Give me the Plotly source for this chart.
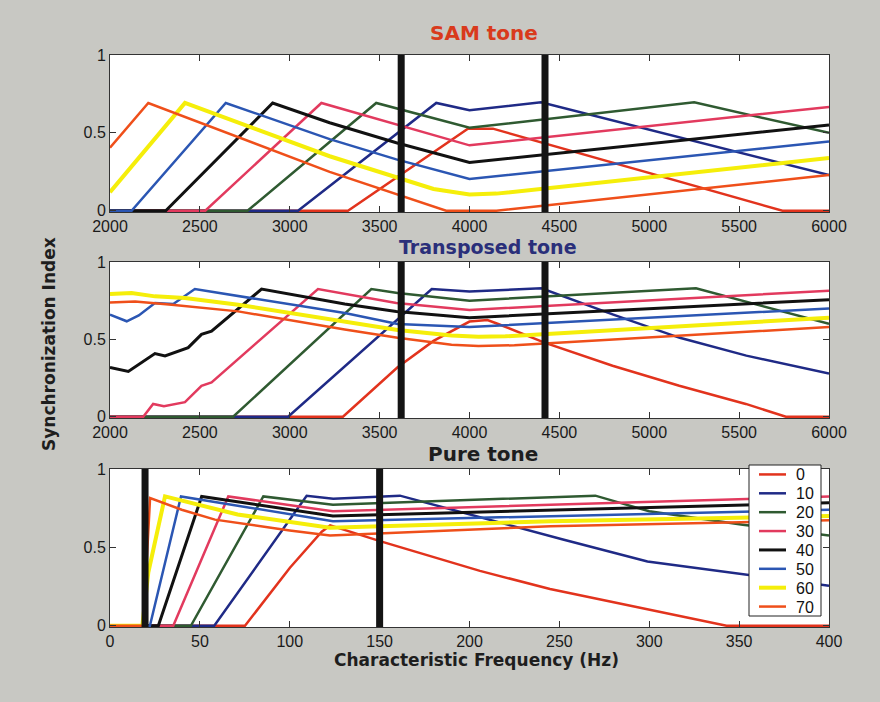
import plotly.graph_objects as go

# Sound levels (dB) shown in the legend, with line colours and widths
LEVELS = ["0", "10", "20", "30", "40", "50", "60", "70"]
LINE_COLORS = ["#e2331d", "#1f2a86", "#2f5a31", "#e23a5e", "#111111", "#2b56b3", "#f5ee0a", "#ef4f1a"]
LINE_WIDTHS = [2.5, 2.5, 2.5, 2.5, 3, 2.5, 4, 2.5]

# ---- SAM tone: characteristic frequency (Hz) vs synchronization index ----
sam_cf_0 = [2000, 3324, 3991, 4130, 5741, 6000]
sam_si_0 = [0, 0, 0.527, 0.527, 0, 0]
sam_cf_10 = [2000, 3046, 3815, 4000, 4398, 6000]
sam_si_10 = [0, 0, 0.692, 0.645, 0.696, 0.229]
sam_cf_20 = [2000, 2765, 3481, 4000, 5250, 6000]
sam_si_20 = [0, 0, 0.692, 0.533, 0.696, 0.50]
sam_cf_30 = [2000, 2530, 3176, 4000, 6000]
sam_si_30 = [0, 0, 0.692, 0.42, 0.667]
sam_cf_40 = [2000, 2310, 2905, 3222, 3593, 4000, 6000]
sam_si_40 = [0, 0, 0.692, 0.565, 0.437, 0.31, 0.55]
sam_cf_50 = [2000, 2120, 2644, 3222, 3593, 4000, 6000]
sam_si_50 = [0, 0, 0.692, 0.46, 0.33, 0.204, 0.444]
sam_cf_60 = [2000, 2417, 3222, 3593, 3800, 4000, 4150, 6000]
sam_si_60 = [0.119, 0.692, 0.35, 0.214, 0.14, 0.104, 0.11, 0.338]
sam_cf_70 = [2000, 2213, 3222, 3870, 4150, 6000]
sam_si_70 = [0.405, 0.692, 0.25, 0, 0, 0.229]
sam_markers = [3620, 4420]

# ---- Transposed tone ----
tr_cf_0 = [2000, 3296, 3600, 3800, 4000, 4100, 4167, 4417, 4796, 5167, 5537, 5760, 6000]
tr_si_0 = [0, 0, 0.32, 0.49, 0.615, 0.625, 0.596, 0.479, 0.33, 0.20, 0.083, 0, 0]
tr_cf_10 = [2000, 2991, 3790, 4000, 4400, 4800, 5170, 5540, 6000]
tr_si_10 = [0, 0, 0.825, 0.81, 0.83, 0.66, 0.51, 0.395, 0.28]
tr_cf_20 = [2000, 2685, 3454, 3600, 4000, 5260, 6000]
tr_si_20 = [0, 0, 0.825, 0.80, 0.75, 0.83, 0.60]
tr_cf_30 = [2000, 2185, 2240, 2300, 2417, 2509, 2565, 3157, 3593, 4000, 6000]
tr_si_30 = [0, 0, 0.083, 0.068, 0.094, 0.20, 0.222, 0.825, 0.735, 0.69, 0.814]
tr_cf_40 = [2000, 2102, 2250, 2306, 2435, 2509, 2565, 2676, 2843, 3306, 3593, 4000, 6000]
tr_si_40 = [0.318, 0.293, 0.408, 0.393, 0.447, 0.532, 0.553, 0.66, 0.825, 0.729, 0.68, 0.64, 0.756]
tr_cf_50 = [2000, 2093, 2160, 2250, 2352, 2472, 3306, 3600, 4000, 6000]
tr_si_50 = [0.66, 0.617, 0.655, 0.735, 0.729, 0.825, 0.67, 0.60, 0.58, 0.70]
tr_cf_60 = [2000, 2120, 2250, 2417, 2713, 3306, 3600, 3900, 4050, 4200, 6000]
tr_si_60 = [0.793, 0.80, 0.778, 0.767, 0.724, 0.617, 0.56, 0.525, 0.517, 0.52, 0.64]
tr_cf_70 = [2000, 2140, 2343, 2713, 3306, 3600, 3900, 4050, 4250, 6000]
tr_si_70 = [0.739, 0.745, 0.724, 0.681, 0.564, 0.51, 0.465, 0.457, 0.462, 0.58]
tr_markers = [3620, 4420]

# ---- Pure tone ----
pt_cf_0 = [0, 75.1, 100.1, 108.5, 117.8, 122.5, 150.2, 205.8, 244.8, 343, 400]
pt_si_0 = [0, 0, 0.37, 0.477, 0.60, 0.64, 0.54, 0.35, 0.234, 0, 0]
pt_cf_10 = [0, 58, 109.4, 124.2, 161.3, 206, 252, 299, 350, 400]
pt_si_10 = [0, 0, 0.829, 0.81, 0.83, 0.69, 0.55, 0.41, 0.33, 0.255]
pt_cf_20 = [0, 45, 85.3, 124, 270, 300, 352, 400]
pt_si_20 = [0, 0, 0.825, 0.772, 0.83, 0.73, 0.645, 0.575]
pt_cf_30 = [0, 35.2, 65.8, 124, 400]
pt_si_30 = [0, 0, 0.825, 0.73, 0.825]
pt_cf_40 = [0, 26.9, 51, 124, 400]
pt_si_40 = [0, 0, 0.825, 0.70, 0.785]
pt_cf_50 = [0, 22.2, 39.5, 124, 400]
pt_si_50 = [0, 0, 0.825, 0.667, 0.74]
pt_cf_60 = [0, 18, 21.3, 30.6, 71, 108.5, 122.4, 245, 400]
pt_si_60 = [0, 0, 0.34, 0.825, 0.71, 0.645, 0.625, 0.667, 0.70]
pt_cf_70 = [0, 18.5, 22.3, 39.9, 58.4, 100, 122.4, 245, 400]
pt_si_70 = [0, 0, 0.815, 0.74, 0.677, 0.608, 0.576, 0.635, 0.673]
pt_markers = [19.5, 150]

X_TICKS_HIGH = [2000, 2500, 3000, 3500, 4000, 4500, 5000, 5500, 6000]
X_TICKS_PURE = [0, 50, 100, 150, 200, 250, 300, 350, 400]
Y_TICKS = [0, 0.5, 1]
Y_TICK_TEXT = ["0", "0.5", "1"]

panels = [
    ("x", "y",
     [sam_cf_0, sam_cf_10, sam_cf_20, sam_cf_30, sam_cf_40, sam_cf_50, sam_cf_60, sam_cf_70],
     [sam_si_0, sam_si_10, sam_si_20, sam_si_30, sam_si_40, sam_si_50, sam_si_60, sam_si_70],
     sam_markers),
    ("x2", "y2",
     [tr_cf_0, tr_cf_10, tr_cf_20, tr_cf_30, tr_cf_40, tr_cf_50, tr_cf_60, tr_cf_70],
     [tr_si_0, tr_si_10, tr_si_20, tr_si_30, tr_si_40, tr_si_50, tr_si_60, tr_si_70],
     tr_markers),
    ("x3", "y3",
     [pt_cf_0, pt_cf_10, pt_cf_20, pt_cf_30, pt_cf_40, pt_cf_50, pt_cf_60, pt_cf_70],
     [pt_si_0, pt_si_10, pt_si_20, pt_si_30, pt_si_40, pt_si_50, pt_si_60, pt_si_70],
     pt_markers),
]

W, H = 880, 702
fig = go.Figure()
shapes = []
annotations = []

for xa, ya, cfs, sis, markers in panels:
    for lvl, col, lw, cf, si in zip(LEVELS, LINE_COLORS, LINE_WIDTHS, cfs, sis):
        fig.add_trace(go.Scatter(
            x=cf, y=si, mode="lines", name=lvl,
            line=dict(color=col, width=lw),
            xaxis=xa, yaxis=ya, showlegend=False,
        ))
    for m in markers:
        shapes.append(dict(
            type="line", xref=xa, yref=f"{ya} domain",
            x0=m, x1=m, y0=0, y1=1,
            line=dict(color="#141414", width=7), layer="above",
        ))

tick_font = dict(family="Liberation Sans, Arial, sans-serif", size=16, color="#1a1a1a")
x_dom = [110 / W, 829 / W]


def px_x(v):
    return v / W


def px_y(v):
    return 1 - v / H


def ydom(top_px, bottom_px):
    return [px_y(bottom_px), px_y(top_px)]


def x_axis(anchor, ticks, rng):
    return dict(
        domain=x_dom, anchor=anchor, range=rng, automargin=False,
        tickvals=ticks, ticks="inside", ticklen=6, tickcolor="#333",
        showline=True, linecolor="#333", linewidth=1, mirror="allticks",
        showgrid=False, zeroline=False, tickfont=tick_font,
    )


def y_axis(anchor, dom):
    return dict(
        domain=dom, anchor=anchor, range=[-0.008, 1.0], automargin=False,
        tickvals=Y_TICKS, ticktext=Y_TICK_TEXT,
        ticks="inside", ticklen=6, tickcolor="#333",
        showline=True, linecolor="#333", linewidth=1, mirror="allticks",
        showgrid=False, zeroline=False, tickfont=tick_font,
    )


title_font = "DejaVu Sans, Arial, sans-serif"


def label(text, x_px, y_px, color, size, angle=0):
    return dict(
        text=f"<b>{text}</b>", x=px_x(x_px), y=px_y(y_px),
        xref="paper", yref="paper", showarrow=False,
        xanchor="center", yanchor="middle", textangle=angle, borderpad=0,
        font=dict(family=title_font, size=size, color=color),
    )


annotations += [
    label("SAM tone", 484, 33, "#d93a1c", 20),
    label("Transposed tone", 488, 247, "#2a2f7a", 19),
    label("Pure tone", 483, 454, "#1e1e1e", 20),
    label("Characteristic Frequency (Hz)", 477, 660, "#1e1e1e", 17),
    label("Synchronization Index", 49, 344, "#1e1e1e", 17, angle=-90),
]

# Level key drawn inside the pure-tone panel
key_left, key_right, key_top, key_bottom = 749, 821, 465, 616
row_h = (key_bottom - key_top) / len(LEVELS)
shapes.append(dict(
    type="rect", xref="paper", yref="paper",
    x0=px_x(key_left), x1=px_x(key_right), y0=px_y(key_bottom), y1=px_y(key_top),
    fillcolor="#ffffff", line=dict(color="#222", width=1), layer="above",
))
for i, (lvl, col, lw) in enumerate(zip(LEVELS, LINE_COLORS, LINE_WIDTHS)):
    yc = key_top + row_h * (i + 0.5)
    shapes.append(dict(
        type="line", xref="paper", yref="paper",
        x0=px_x(759), x1=px_x(786), y0=px_y(yc), y1=px_y(yc),
        line=dict(color=col, width=lw), layer="above",
    ))
    annotations.append(dict(
        text=lvl, x=px_x(794), y=px_y(yc + 0.5), xref="paper", yref="paper",
        showarrow=False, xanchor="left", yanchor="middle",
        font=dict(family="Liberation Sans, Arial, sans-serif", size=16, color="#111"),
    ))

fig.update_layout(
    width=W, height=H,
    margin=dict(l=0, r=0, t=0, b=0, autoexpand=False),
    paper_bgcolor="#c8c8c3",
    plot_bgcolor="#ffffff",
    xaxis=x_axis("y", X_TICKS_HIGH, [2000, 6000]),
    yaxis=y_axis("x", ydom(55, 212)),
    xaxis2=x_axis("y2", X_TICKS_HIGH, [2000, 6000]),
    yaxis2=y_axis("x2", ydom(262, 418)),
    xaxis3=x_axis("y3", X_TICKS_PURE, [0, 400]),
    yaxis3=y_axis("x3", ydom(469, 627)),
    shapes=shapes,
    annotations=annotations,
    showlegend=False,
)

fig.write_html("out.html")
